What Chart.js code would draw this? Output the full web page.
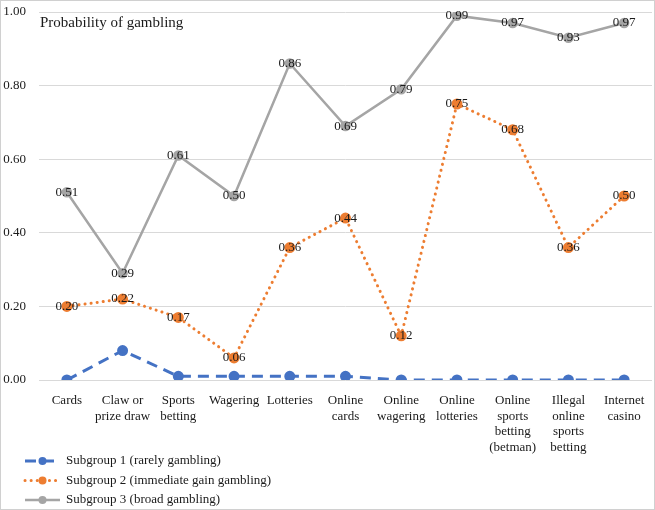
<!DOCTYPE html>
<html><head><meta charset="utf-8">
<script src="https://cdn.jsdelivr.net/npm/chart.js@4/dist/chart.umd.min.js"></script>
<style>html,body{margin:0;padding:0;background:#fff}#wrap{width:655px;height:510px}</style>
</head><body><div id="wrap"><canvas id="c" width="655" height="510"></canvas></div>
<script>
const categories = [["Cards"],["Claw or","prize draw"],["Sports","betting"],["Wagering"],["Lotteries"],["Online","cards"],["Online","wagering"],["Online","lotteries"],["Online","sports","betting","(betman)"],["Illegal","online","sports","betting"],["Internet","casino"]];
const subgroup1 = [0.00,0.08,0.01,0.01,0.01,0.01,0.00,0.00,0.00,0.00,0.00];
const subgroup2 = [0.20,0.22,0.17,0.06,0.36,0.44,0.12,0.75,0.68,0.36,0.50];
const subgroup3 = [0.51,0.29,0.61,0.50,0.86,0.69,0.79,0.99,0.97,0.93,0.97];
const seriesNames = ["Subgroup 1 (rarely gambling)","Subgroup 2 (immediate gain gambling)","Subgroup 3 (broad gambling)"];
const yTicks = [0,0.2,0.4,0.6,0.8,1.0];
const chartTitle = "Probability of gambling";
const FONT = "'Liberation Serif','Times New Roman',serif";

const extras = {
  id:'extras',
  afterDatasetsDraw(chart){
    const ctx = chart.ctx;
    ctx.save();
    ctx.font = "13px " + FONT;
    ctx.fillStyle = "#1a1a1a";
    ctx.textAlign = "center"; ctx.textBaseline = "middle";
    [1,2].forEach(di=>{
      const meta = chart.getDatasetMeta(di);
      meta.data.forEach((pt,i)=>{
        ctx.fillText(chart.data.datasets[di].data[i].toFixed(2), pt.x, pt.y);
      });
    });
    // title
    ctx.textAlign = "left";
    ctx.font = "15px " + FONT;
    ctx.fillText(chartTitle, chart.chartArea.left + 1, 23);
    // legend
    ctx.font = "13px " + FONT;
    chart.data.datasets.forEach((ds,i)=>{
      const y = 461 + i*19.5;
      ctx.strokeStyle = ds.borderColor; ctx.lineWidth = ds.borderWidth;
      ctx.lineCap = ds.borderCapStyle || 'butt';
      ctx.setLineDash(ds.borderDash || []);
      ctx.beginPath(); ctx.moveTo(25,y); ctx.lineTo(60,y); ctx.stroke();
      ctx.setLineDash([]);
      ctx.fillStyle = ds.pointBackgroundColor;
      ctx.beginPath(); ctx.arc(42.5,y,4,0,Math.PI*2); ctx.fill();
      ctx.fillStyle = "#1a1a1a";
      ctx.fillText(ds.label, 66, y);
    });
    // frame
    ctx.strokeStyle = "#d0d0d0"; ctx.lineWidth = 1;
    ctx.strokeRect(0.5,0.5,654,509);
    ctx.restore();
  }
};

new Chart(document.getElementById('c'), {
  type:'line',
  data:{
    labels: categories,
    datasets:[
      {label:seriesNames[0], data:subgroup1, borderColor:'#4472C4', pointBackgroundColor:'#4472C4', pointBorderColor:'#4472C4', borderWidth:3, borderDash:[11,7], pointRadius:4, tension:0},
      {label:seriesNames[1], data:subgroup2, borderColor:'#ED7D31', pointBackgroundColor:'#ED7D31', pointBorderColor:'#ED7D31', borderWidth:3, borderDash:[0.1,6], borderCapStyle:'round', pointRadius:4, tension:0},
      {label:seriesNames[2], data:subgroup3, borderColor:'#A5A5A5', pointBackgroundColor:'#A5A5A5', pointBorderColor:'#A5A5A5', borderWidth:2.5, pointRadius:4, tension:0}
    ]
  },
  options:{
    responsive:false, animation:false, devicePixelRatio:1,
    layout:{autoPadding:false, padding:{top:12,bottom:55,right:3,left:0}},
    plugins:{legend:{display:false}, tooltip:{enabled:false}, title:{display:false}},
    scales:{
      x:{
        offset:true,
        grid:{display:false, drawBorder:false},
        border:{display:false},
        ticks:{color:'#1a1a1a', font:{family:FONT,size:13, lineHeight:1.2}, maxRotation:0, autoSkip:false, padding:5},
        afterFit(s){ s.height = 75; s.paddingLeft = 0; s.paddingRight = 0; }
      },
      y:{
        min:0, max:1,
        border:{display:false},
        grid:{color:'#d9d9d9', drawTicks:false, lineWidth:1},
        afterBuildTicks(s){ s.ticks = yTicks.map(v=>({value:v})); },
        ticks:{color:'#1a1a1a', font:{family:FONT,size:13}, padding:13, callback:v=>v.toFixed(2)},
        afterFit(s){ s.width = 39; s.paddingTop = 0; s.paddingBottom = 0; }
      }
    }
  },
  plugins:[extras]
});
</script></body></html>
